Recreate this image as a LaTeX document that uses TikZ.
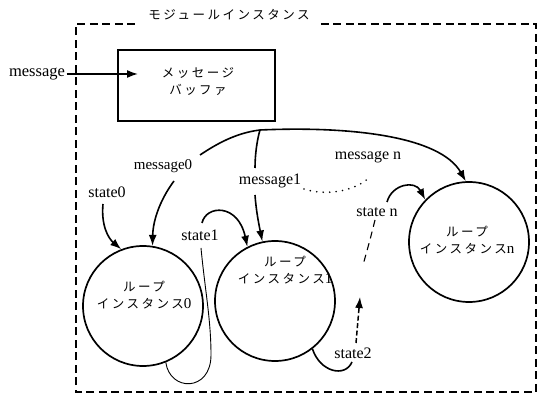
\documentclass[tikz,border=0pt]{standalone}
\usepackage{fontspec}
\setmainfont{Liberation Serif}
\newfontfamily\jpfont[LetterSpace=20]{Noto Sans CJK JP}
\newcommand{\latnum}[1]{{\normalfont\fontsize{15}{16.5}\selectfont #1}}
\usetikzlibrary{arrows.meta}
\begin{document}
\begin{tikzpicture}[x=1pt,y=-1pt,
  lat/.style={inner sep=1.5pt,font=\fontsize{16}{18}\selectfont},
  jp/.style={inner sep=1pt,align=center,font=\jpfont\fontsize{12.5}{16.5}\selectfont},
  ln/.style={line width=1.6pt},
  arr/.style={line width=1.6pt,-{Latex[length=11pt,width=8pt]}},
  loopc/.style={draw,circle,line width=1.7pt,minimum size=120pt,inner sep=0pt},
  frame/.style={line width=1.8pt,dash pattern=on 8pt off 4.5pt},
  dotline/.style={line width=1.8pt,line cap=round,dash pattern=on 0pt off 6.5pt},
  dashln/.style={line width=1.1pt,dash pattern=on 7pt off 5pt},
  thinln/.style={line width=0.9pt}]
\useasboundingbox (0,0) rectangle (539,395);

% title and frame
\node[jp,inner xsep=11pt] (title) at (229,15) {モジュールインスタンス};
\coordinate (tl) at (76,24);
\coordinate (tr) at (536,24);
\coordinate (br) at (536,392);
\coordinate (bl) at (76,392);
\draw[frame] (title.east |- tl) -- (tr) -- (br) -- (bl) -- (tl) -- (title.west |- tl);

% message buffer
\node[draw,line width=1.7pt,minimum width=157pt,minimum height=71pt,inner sep=0pt] (buf) at (196.5,85.5) {};
\node[jp] (buftext) at (198,81.5) {メッセージ\\バッファ};
\node[lat,font=\fontsize{16.5}{18}\selectfont] (msg) at (37,74) {message};
\coordinate (bufin) at (138,74);
\draw[arr] (msg.east) -- (bufin);

% loop instances
\node[loopc] (c0) at (143,306) {};
\node[loopc] (c1) at (275,301) {};
\node[loopc] (cn) at (469,242) {};
\node[jp] (t0) at (144,295) {ループ\\インスタンス\latnum{0}};
\node[jp] (t1) at (285,270) {ループ\\インスタンス\latnum{1}};
\node[jp] (tn) at (467,240) {ループ\\インスタンス\latnum{n}};

% labels
\node[lat,font=\fontsize{15}{17}\selectfont] (m0) at (163,166) {message0};
\node[lat] (m1) at (270,181) {message1};
\node[lat] (mn) at (368,157) {message n};
\node[lat] (s0) at (107,192) {state0};
\node[lat] (s1) at (200,235) {state1};
\node[lat] (s2) at (353,353) {state2};
\node[lat] (sn) at (377,212) {state n};

% source point of message distribution
\coordinate (src) at (260,130);

% message0
\coordinate (m0a) at (200,155);
\coordinate (m0b) at (174,181);
\draw[ln] (src) .. controls (235,133) and (215,145) .. (m0a);
\draw[arr] (m0b) .. controls (162,197) and (153,218) .. (c0.81);

% message1
\coordinate (m1a) at (255,168);
\coordinate (m1b) at (255,195);
\draw[ln] (src) .. controls (257,140) and (255,155) .. (m1a);
\draw[arr] (m1b) .. controls (256,210) and (259,225) .. (c1.102);

% message n
\draw[arr] (src) .. controls (350,126) and (440,136) .. (cn.93);

% dotted
\coordinate (d1) at (304,189);
\coordinate (d2) at (371,176);
\draw[dotline] (d1) .. controls (325,196) and (355,192) .. (d2);

% state0
\coordinate (s0a) at (103,204);
\draw[arr] (s0a) .. controls (101,225) and (108,238) .. (c0.111);

% state1
\coordinate (s1a) at (202,223);
\draw[arr] (s1a) .. controls (206,205) and (238,203) .. (c1.117);

% thin line from circle 0 to state1
\coordinate (s1b) at (201,248);
\coordinate (s1c) at (211,355);
\draw[thinln] (s1b) .. controls (205,290) and (211,320) .. (s1c) .. controls (211,392) and (170,392) .. (c0.-68);

% state2
\coordinate (s2a) at (352,362);
\draw[ln] (c1.-52) .. controls (320,372) and (345,378) .. (s2a);
\coordinate (s2b) at (356,343);
\coordinate (s2c) at (360,297);
\draw[line width=1.5pt,dash pattern=on 5pt off 2.5pt,-{Latex[length=11pt,width=8pt]}] (s2b) -- (s2c);

% state n
\coordinate (sna) at (375,220);
\coordinate (snb) at (363,265);
\draw[dashln] (sna) .. controls (370,240) .. (snb);
\coordinate (snc) at (387,202);
\draw[arr] (snc) .. controls (392,184) and (415,180) .. (cn.136);
\end{tikzpicture}
\end{document}
